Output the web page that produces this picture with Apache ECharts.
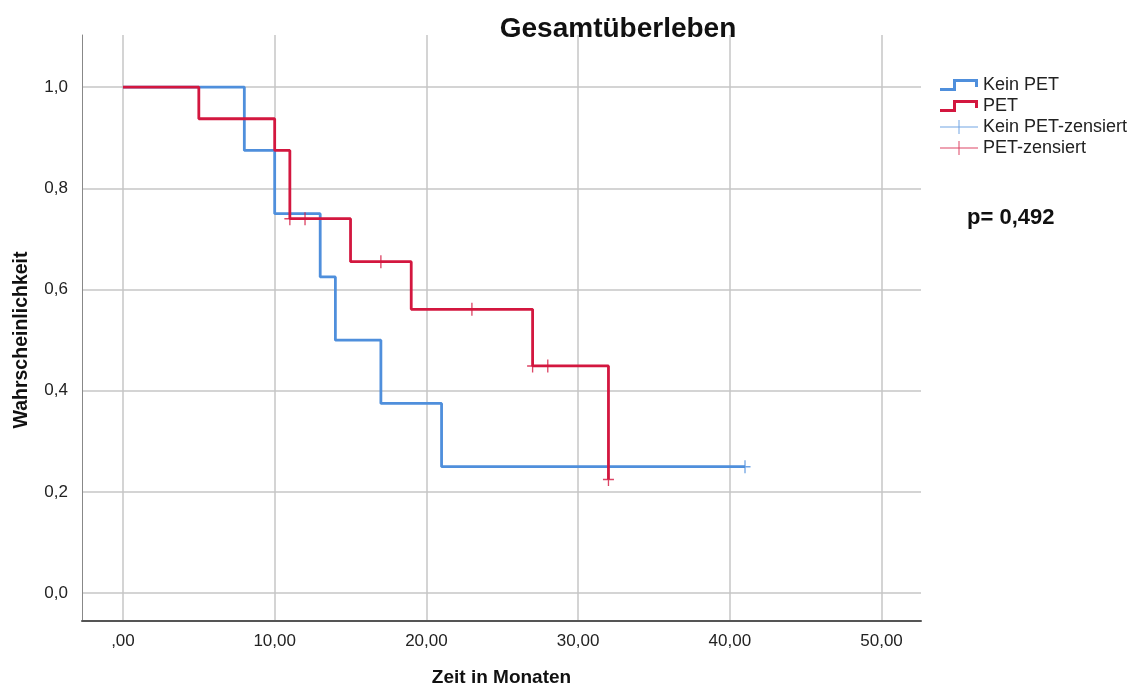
<!DOCTYPE html>
<html><head><meta charset="utf-8">
<script src="https://cdn.jsdelivr.net/npm/echarts@6/dist/echarts.min.js"></script>
<style>html,body{margin:0;padding:0;background:#fff}#c{width:1144px;height:686px}</style>
</head><body><div id="c"></div><script>
// ---- data ----
const xTicks = [0, 10, 20, 30, 40, 50];
const yTicks = [0, 0.2, 0.4, 0.6, 0.8, 1.0];
const keinPetTimes = [0, 8, 10, 13, 14, 17, 21, 41];
const keinPetSurv  = [1, 0.875, 0.75, 0.625, 0.5, 0.375, 0.25, 0.25];
const petTimes = [0, 5, 10, 11, 15, 19, 27, 32];
const petSurv  = [1, 0.9375, 0.875, 0.74, 0.655, 0.561, 0.449, 0.2247];
const keinPetCensTimes = [41];
const keinPetCensSurv  = [0.25];
const petCensTimes = [11, 12, 17, 23, 27, 28, 32];
const petCensSurv  = [0.74, 0.74, 0.655, 0.561, 0.449, 0.449, 0.2247];
const seriesNames = ['Kein PET', 'PET', 'Kein PET-zensiert', 'PET-zensiert'];
const pText = 'p= 0,492';

const zip = (a, b) => a.map((v, i) => [v, b[i]]);
const BLUE = '#4f8fdc', RED = '#d3173f';
const FONT = '"Liberation Sans", Arial, sans-serif';
const stepIcon = 'path://M0,9H13V0H38V8H35V3H16V12H0Z';
const plusIcon = 'path://M0,6.5H38V7.5H0Z M18.5,0H19.5V14H18.5Z';
const plusSym = 'path://M4.4,0H5.6V4.4H10V5.6H5.6V10H4.4V5.6H0V4.4H4.4Z';

const chart = echarts.init(document.getElementById('c'), null, {renderer: 'canvas'});
chart.setOption({
  animation: false,
  backgroundColor: '#fff',
  textStyle: {fontFamily: FONT},
  title: {
    text: 'Gesamtüberleben', left: 613, top: 10, textAlign: 'center',
    textStyle: {fontSize: 28, fontWeight: 'bold', color: '#111', fontFamily: FONT}
  },
  legend: {
    orient: 'vertical', left: 940, top: 76, padding: 0,
    itemWidth: 38, itemHeight: 14, itemGap: 3,
    textStyle: {fontSize: 18, lineHeight: 18, color: '#222', fontFamily: FONT},
    data: [
      {name: seriesNames[0], icon: stepIcon},
      {name: seriesNames[1], icon: stepIcon},
      {name: seriesNames[2], icon: plusIcon},
      {name: seriesNames[3], icon: plusIcon}
    ]
  },
  grid: {left: 82, top: 35, right: 223, bottom: 65, outerBoundsMode: 'none', containLabel: false},
  xAxis: {
    type: 'value', min: -2.7, max: 52.6,
    name: 'Zeit in Monaten', nameLocation: 'middle', nameGap: 47,
    nameTextStyle: {fontSize: 19, fontWeight: 'bold', color: '#111', fontFamily: FONT},
    axisLine: {onZero: false, lineStyle: {color: '#555', width: 2}},
    axisTick: {show: false, customValues: xTicks},
    axisLabel: {customValues: xTicks, fontSize: 17, color: '#222', margin: 12,
      formatter: v => (v === 0 ? '' : String(Math.round(v))) + ',00'},
    splitLine: {show: true, lineStyle: {color: '#c6c6c6', width: 1.5}}
  },
  yAxis: {
    type: 'value', min: -0.055, max: 1.103,
    name: 'Wahrscheinlichkeit', nameLocation: 'middle', nameGap: 50,
    nameTextStyle: {fontSize: 19.5, fontWeight: 'bold', color: '#111', fontFamily: FONT,
      padding: [0, 24, 0, 0]},
    axisLine: {show: true, onZero: false, lineStyle: {color: '#888', width: 1}},
    axisTick: {show: false, customValues: yTicks},
    axisLabel: {customValues: yTicks, fontSize: 17, color: '#222', margin: 14,
      formatter: v => v.toFixed(1).replace('.', ',')},
    splitLine: {show: true, lineStyle: {color: '#c6c6c6', width: 1.5}}
  },
  graphic: [{
    type: 'text', left: 967, top: 207,
    style: {text: pText, font: 'bold 22px ' + FONT, fill: '#111'}
  }],
  series: [
    {name: seriesNames[0], type: 'line', step: 'end', data: zip(keinPetTimes, keinPetSurv),
     symbol: 'none', color: BLUE, lineStyle: {color: BLUE, width: 2.8}, z: 2},
    {name: seriesNames[1], type: 'line', step: 'end', data: zip(petTimes, petSurv),
     symbol: 'none', color: RED, lineStyle: {color: RED, width: 2.8}, z: 3},
    {name: seriesNames[2], type: 'scatter', data: zip(keinPetCensTimes, keinPetCensSurv),
     symbol: plusSym, symbolSize: [11, 13], color: BLUE, itemStyle: {color: BLUE}, z: 4},
    {name: seriesNames[3], type: 'scatter', data: zip(petCensTimes, petCensSurv),
     symbol: plusSym, symbolSize: [11, 13], color: RED, itemStyle: {color: RED}, z: 5}
  ]
});
</script></body></html>
